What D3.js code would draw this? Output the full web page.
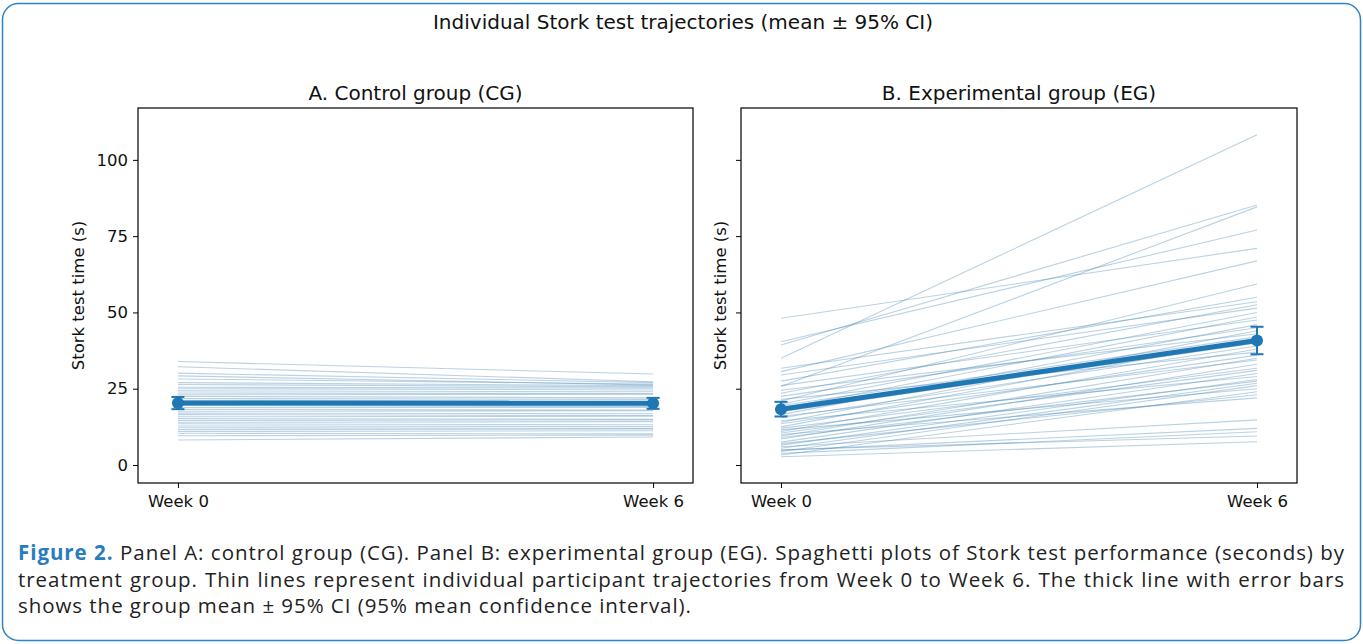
<!DOCTYPE html>
<html>
<head>
<meta charset="utf-8">
<script src="https://cdn.jsdelivr.net/npm/d3@7"></script>
<style>
  html, body { margin: 0; padding: 0; background: #fff; }
  #wrap { position: relative; width: 1363px; height: 644px; overflow: hidden; }
  svg { position: absolute; left: 0; top: 0; }
  #caption {
    position: absolute; left: 18px; top: 539px; width: 1327px;
    font-family: "Open Sans", sans-serif; font-size: 20.5px; color: #222;
    line-height: 26.5px; letter-spacing: 0.95px;
  }
  #caption div { text-align: justify; text-align-last: justify; white-space: nowrap; }
  #caption div.last { text-align-last: left; }
  #caption b { color: #2a7bbf; font-weight: 700; }
</style>
</head>
<body>
<div id="wrap">
<svg id="chart" width="1363" height="644"></svg>
<div id="caption">
  <div><b>Figure 2.</b> Panel A: control group (CG). Panel B: experimental group (EG). Spaghetti plots of Stork test performance (seconds) by</div>
  <div>treatment group. Thin lines represent individual participant trajectories from Week 0 to Week 6. The thick line with error bars</div>
  <div class="last">shows the group mean ± 95% CI (95% mean confidence interval).</div>
</div>
</div>
<script>
// time points
var weeks = ["Week 0", "Week 6"];
var yTicks = [0, 25, 50, 75, 100];

// control group, one entry per participant
var cgWeek0 = [33.9, 32.2, 30.1, 29.2, 28.2, 27.0, 26.4, 25.5, 25.0, 24.3, 23.6, 23.0, 22.5, 21.8, 21.2, 20.6, 20.0, 19.5, 18.8, 18.2, 17.6, 17.0, 16.5, 15.8, 15.2, 14.6, 14.0, 13.5, 12.8, 12.2, 11.6, 11.0, 10.4, 9.6, 8.2];
var cgWeek6 = [29.8, 27.3, 27.0, 26.2, 26.5, 26.0, 25.6, 25.2, 24.6, 24.0, 23.4, 23.2, 22.0, 21.5, 21.0, 20.8, 19.8, 19.2, 18.9, 18.0, 17.8, 16.8, 16.2, 16.0, 15.0, 14.8, 14.2, 13.2, 12.6, 12.0, 11.8, 11.2, 10.2, 9.8, 9.2];
var cgMean = [20.3, 20.2];
var cgCI = [2.0, 1.8];

// experimental group
var egWeek0 = [35.0, 39.3, 25.7, 40.4, 48.1, 30.6, 21.0, 27.5, 31.7, 23.5, 29.5, 20.0, 18.5, 26.0, 16.5, 22.5, 14.0, 24.5, 19.5, 12.5, 17.5, 15.5, 11.0, 21.5, 13.5, 9.5, 16.0, 8.5, 12.0, 10.5, 7.5, 14.5, 6.5, 9.0, 5.5, 4.4, 11.5, 3.3, 7.0, 10.0, 6.0, 4.8, 3.8, 2.7, 5.0];
var egWeek6 = [108.2, 85.2, 84.6, 77.0, 71.0, 66.9, 59.3, 55.0, 53.5, 52.5, 51.4, 50.0, 48.5, 47.5, 46.0, 45.0, 44.0, 43.0, 42.0, 41.5, 40.0, 39.0, 38.0, 37.0, 36.0, 35.0, 34.4, 33.0, 31.7, 31.0, 30.0, 29.0, 28.0, 27.5, 26.8, 26.0, 25.0, 24.0, 23.0, 22.0, 14.8, 12.0, 10.9, 7.6, 9.5];
var egMean = [18.3, 40.8];
var egCI = [2.4, 4.5];

var svg = d3.select("#chart");
var font = "DejaVu Sans, sans-serif";
var blue = "#1f77b4";

// outer rounded frame
svg.append("rect")
    .attr("x", 2.5).attr("y", 3.5)
    .attr("width", 1358).attr("height", 637)
    .attr("rx", 16).attr("ry", 16)
    .attr("fill", "none")
    .attr("stroke", "#2f84c8")
    .attr("stroke-width", 1.5);

svg.append("text")
    .attr("x", 683).attr("y", 29)
    .attr("text-anchor", "middle")
    .style("font-family", font).style("font-size", "20px")
    .attr("fill", "#111")
    .text("Individual Stork test trajectories (mean ± 95% CI)");

var plotTop = 108, plotBottom = 483;
var y = d3.scaleLinear().domain([-5.9, 117]).range([plotBottom, plotTop]);

function panel(left, right, title, w0, w6, mean, ci, showLabels) {
    var x = d3.scalePoint().domain(weeks).range([left, right]).padding(0.084);
    var g = svg.append("g");

    // individual trajectories
    w0.forEach(function(v, i) {
        g.append("line")
            .attr("x1", x(weeks[0])).attr("y1", y(v))
            .attr("x2", x(weeks[1])).attr("y2", y(w6[i]))
            .attr("stroke", "#3a7fb0")
            .attr("stroke-opacity", 0.35)
            .attr("stroke-width", 1.1);
    });

    // mean line
    var line = d3.line()
        .x(function(d, i) { return x(weeks[i]); })
        .y(function(d) { return y(d); });
    g.append("path")
        .datum(mean)
        .attr("d", line)
        .attr("fill", "none")
        .attr("stroke", blue)
        .attr("stroke-width", 5);

    // error bars
    mean.forEach(function(m, i) {
        var cx = x(weeks[i]);
        g.append("line")
            .attr("x1", cx).attr("x2", cx)
            .attr("y1", y(m - ci[i])).attr("y2", y(m + ci[i]))
            .attr("stroke", blue).attr("stroke-width", 2);
        [m - ci[i], m + ci[i]].forEach(function(c) {
            g.append("line")
                .attr("x1", cx - 6.5).attr("x2", cx + 6.5)
                .attr("y1", y(c)).attr("y2", y(c))
                .attr("stroke", blue).attr("stroke-width", 2);
        });
        g.append("circle")
            .attr("cx", cx).attr("cy", y(m))
            .attr("r", 6)
            .attr("fill", blue);
    });

    // axes
    var yAxis = d3.axisLeft(y).tickValues(yTicks).tickSize(5).tickPadding(5);
    if (!showLabels) yAxis.tickFormat("");
    var ya = g.append("g")
        .attr("transform", "translate(" + left + ",0)")
        .call(yAxis);
    var xa = g.append("g")
        .attr("transform", "translate(0," + plotBottom + ")")
        .call(d3.axisBottom(x).tickSize(5).tickPadding(7));
    [ya, xa].forEach(function(a) {
        a.select(".domain").remove();
        a.selectAll("line").attr("stroke", "#000").attr("stroke-width", 1);
        a.selectAll("text")
            .attr("fill", "#111")
            .style("font-family", font)
            .style("font-size", "16.5px");
    });

    g.append("rect")
        .attr("x", left).attr("y", plotTop)
        .attr("width", right - left).attr("height", plotBottom - plotTop)
        .attr("fill", "none")
        .attr("stroke", "#000")
        .attr("stroke-width", 1.2);

    g.append("text")
        .attr("x", (left + right) / 2).attr("y", plotTop - 8)
        .attr("text-anchor", "middle")
        .attr("fill", "#111")
        .style("font-family", font).style("font-size", "20px")
        .text(title);

    var labelX = showLabels ? left - 54 : left - 15;
    g.append("text")
        .attr("transform", "translate(" + labelX + "," + (plotTop + plotBottom) / 2 + ") rotate(-90)")
        .attr("text-anchor", "middle")
        .attr("fill", "#111")
        .style("font-family", font).style("font-size", "16.5px")
        .text("Stork test time (s)");
}

panel(138, 693, "A. Control group (CG)", cgWeek0, cgWeek6, cgMean, cgCI, true);
panel(741, 1297, "B. Experimental group (EG)", egWeek0, egWeek6, egMean, egCI, false);
</script>
</body>
</html>
